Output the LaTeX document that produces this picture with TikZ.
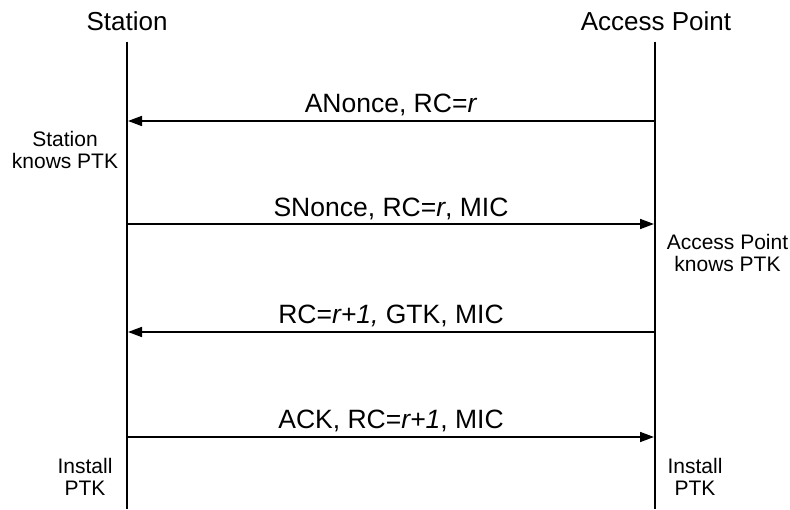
\documentclass[tikz,border=0pt]{standalone}
\usepackage{fontspec}
\setmainfont{Liberation Sans}
\usetikzlibrary{arrows.meta}
\begin{document}
\begin{tikzpicture}[x=1pt,y=-1pt,
  life/.style={line width=1.6pt},
  msg/.style={line width=1.6pt,-{Triangle[length=14pt,width=10pt]}},
  title/.style={font=\fontsize{26}{30}\selectfont,anchor=base},
  lbl/.style={font=\fontsize{26.5}{30}\selectfont,anchor=base},
  note/.style={font=\fontsize{21}{22.5}\selectfont,align=center,inner sep=0pt}]
\useasboundingbox (0,0) rectangle (790,510);
\node[title] (st) at (127,30.5) {Station};
\node[title] (ap) at (656,30.5) {Access Point};
\coordinate (stT) at (127,42);
\coordinate (stB) at (127,509);
\coordinate (apT) at (655,42);
\coordinate (apB) at (655,509);
\draw[life] (stT) -- (stB);
\draw[life] (apT) -- (apB);
% message endpoints
\coordinate (a1) at (655,121); \coordinate (b1) at (128,121);
\coordinate (a2) at (127,224); \coordinate (b2) at (654,224);
\coordinate (a3) at (655,332); \coordinate (b3) at (128,332);
\coordinate (a4) at (127,437); \coordinate (b4) at (654,437);
\draw[msg] (a1) -- (b1);
\draw[msg] (a2) -- (b2);
\draw[msg] (a3) -- (b3);
\draw[msg] (a4) -- (b4);
\node[lbl] (l1) at (391,112.5) {ANonce, RC=\textit{r}};
\node[lbl] (l2) at (391,216.5) {SNonce, RC=\textit{r}, MIC};
\node[lbl] (l3) at (391,323.5) {RC=\textit{r+1,} GTK, MIC};
\node[lbl] (l4) at (391,428.5) {ACK, RC=\textit{r+1}, MIC};
\node[note] (n1) at (65,150) {Station\\knows PTK};
\node[note] (n2) at (727.5,253) {Access Point\\knows PTK};
\node[note] (n3) at (85,477) {Install\\PTK};
\node[note] (n4) at (695,477) {Install\\PTK};
\end{tikzpicture}
\end{document}
